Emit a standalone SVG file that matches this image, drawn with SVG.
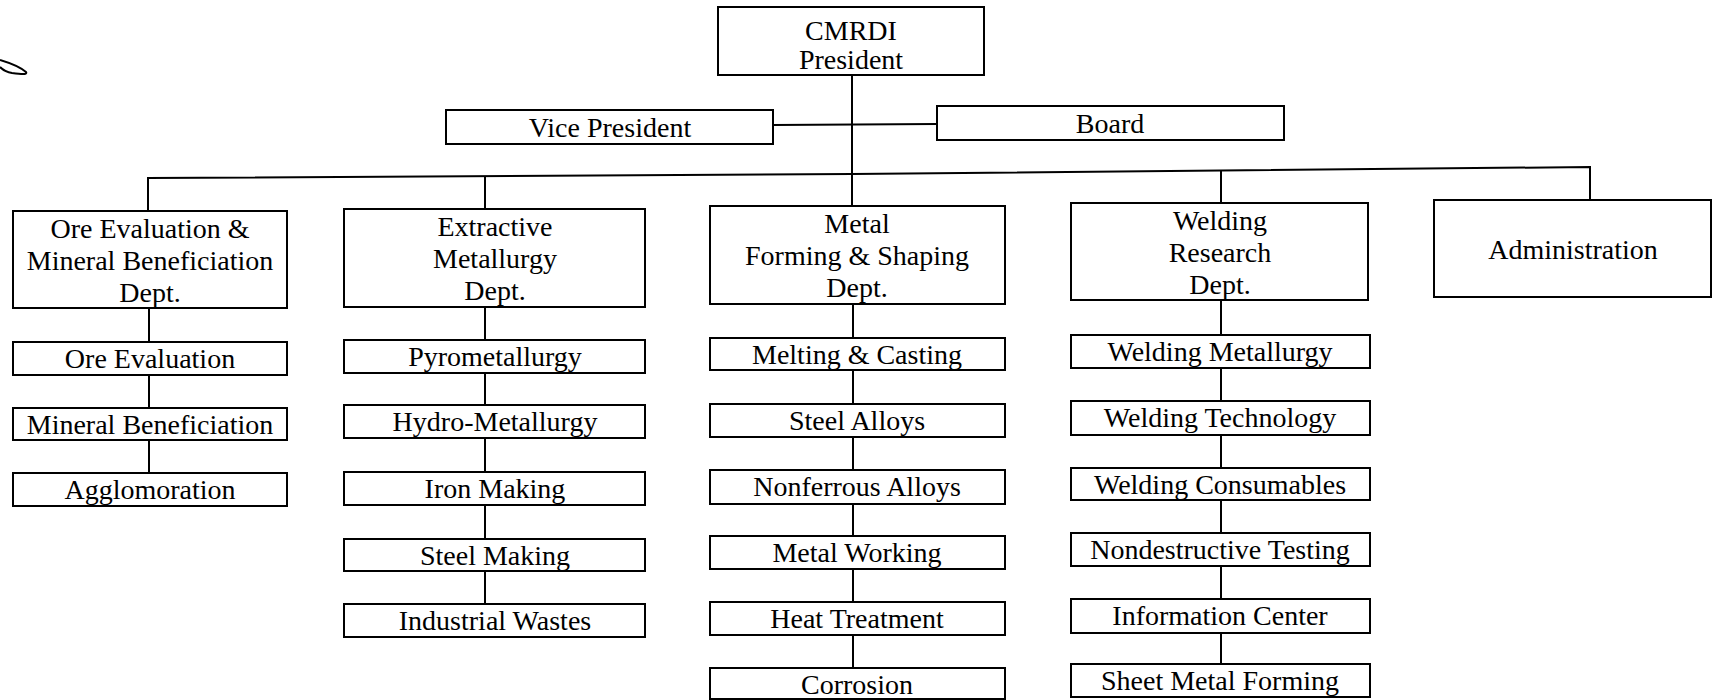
<svg xmlns="http://www.w3.org/2000/svg" width="1713" height="700" viewBox="0 0 1713 700">
<style>
.box{fill:#fff;stroke:#000;stroke-width:2}
.ln{fill:none;stroke:#000;stroke-width:2}
.t{font-family:"Liberation Serif","Times New Roman",serif;font-size:28px;text-anchor:middle;fill:#000}
</style>
<rect width="1713" height="700" fill="#fff"/>
<path class="ln" d="M0,60 C10,63 20,67 26,72 C28,75 20,74 12,73 C6,72 2,69 0,67"/>
<g id="connectors">
<line class="ln" x1="852" y1="75" x2="852" y2="206"/>
<line class="ln" x1="773" y1="125" x2="937" y2="124"/>
<polyline class="ln" points="148,211 148,178 852,174 1590,167 1590,200"/>
<line class="ln" x1="485" y1="176" x2="485" y2="209"/>
<line class="ln" x1="1221" y1="170" x2="1221" y2="203"/>
<path class="ln" d="M149,308V342M149,375V408M149,440V473"/>
<path class="ln" d="M485,307V340M485,373V405M485,438V472M485,505V539M485,571V604"/>
<path class="ln" d="M853,304V338M853,370V404M853,437V470M853,504V536M853,569V602M853,635V668"/>
<path class="ln" d="M1221,300V335M1221,368V401M1221,435V468M1221,500V533M1221,566V599M1221,633V664"/>
</g>
<g id="president"><rect class="box" x="718" y="7" width="266" height="68"/><text class="t" x="851" y="40">CMRDI</text><text class="t" x="851" y="69">President</text></g>
<g id="vice-president"><rect class="box" x="446" y="110" width="327" height="34"/><text class="t" x="610" y="137">Vice President</text></g>
<g id="board"><rect class="box" x="937" y="106" width="347" height="34"/><text class="t" x="1110" y="133">Board</text></g>
<g id="dept-ore"><rect class="box" x="13" y="211" width="274" height="97"/><text class="t" x="150" y="238">Ore Evaluation &amp;</text><text class="t" x="150" y="270">Mineral Beneficiation</text><text class="t" x="150" y="302">Dept.</text></g>
<g id="dept-extractive"><rect class="box" x="344" y="209" width="301" height="98"/><text class="t" x="495" y="236">Extractive</text><text class="t" x="495" y="268">Metallurgy</text><text class="t" x="495" y="300">Dept.</text></g>
<g id="dept-metal"><rect class="box" x="710" y="206" width="295" height="98"/><text class="t" x="857" y="233">Metal</text><text class="t" x="857" y="265">Forming &amp; Shaping</text><text class="t" x="857" y="297">Dept.</text></g>
<g id="dept-welding"><rect class="box" x="1071" y="203" width="297" height="97"/><text class="t" x="1220" y="230">Welding</text><text class="t" x="1220" y="262">Research</text><text class="t" x="1220" y="294">Dept.</text></g>
<g id="administration"><rect class="box" x="1434" y="200" width="277" height="97"/><text class="t" x="1573" y="259">Administration</text></g>
<g id="ore-evaluation"><rect class="box" x="13" y="342" width="274" height="33"/><text class="t" x="150" y="368">Ore Evaluation</text></g>
<g id="mineral-beneficiation"><rect class="box" x="13" y="408" width="274" height="32"/><text class="t" x="150" y="434">Mineral Beneficiation</text></g>
<g id="agglomoration"><rect class="box" x="13" y="473" width="274" height="33"/><text class="t" x="150" y="499">Agglomoration</text></g>
<g id="pyrometallurgy"><rect class="box" x="344" y="340" width="301" height="33"/><text class="t" x="495" y="366">Pyrometallurgy</text></g>
<g id="hydro-metallurgy"><rect class="box" x="344" y="405" width="301" height="33"/><text class="t" x="495" y="431">Hydro-Metallurgy</text></g>
<g id="iron-making"><rect class="box" x="344" y="472" width="301" height="33"/><text class="t" x="495" y="498">Iron Making</text></g>
<g id="steel-making"><rect class="box" x="344" y="539" width="301" height="32"/><text class="t" x="495" y="565">Steel Making</text></g>
<g id="industrial-wastes"><rect class="box" x="344" y="604" width="301" height="33"/><text class="t" x="495" y="630">Industrial Wastes</text></g>
<g id="melting-casting"><rect class="box" x="710" y="338" width="295" height="32"/><text class="t" x="857" y="364">Melting &amp; Casting</text></g>
<g id="steel-alloys"><rect class="box" x="710" y="404" width="295" height="33"/><text class="t" x="857" y="430">Steel Alloys</text></g>
<g id="nonferrous-alloys"><rect class="box" x="710" y="470" width="295" height="34"/><text class="t" x="857" y="496">Nonferrous Alloys</text></g>
<g id="metal-working"><rect class="box" x="710" y="536" width="295" height="33"/><text class="t" x="857" y="562">Metal Working</text></g>
<g id="heat-treatment"><rect class="box" x="710" y="602" width="295" height="33"/><text class="t" x="857" y="628">Heat Treatment</text></g>
<g id="corrosion"><rect class="box" x="710" y="668" width="295" height="31"/><text class="t" x="857" y="694">Corrosion</text></g>
<g id="welding-metallurgy"><rect class="box" x="1071" y="335" width="299" height="33"/><text class="t" x="1220" y="361">Welding Metallurgy</text></g>
<g id="welding-technology"><rect class="box" x="1071" y="401" width="299" height="34"/><text class="t" x="1220" y="427">Welding Technology</text></g>
<g id="welding-consumables"><rect class="box" x="1071" y="468" width="299" height="32"/><text class="t" x="1220" y="494">Welding Consumables</text></g>
<g id="nondestructive-testing"><rect class="box" x="1071" y="533" width="299" height="33"/><text class="t" x="1220" y="559">Nondestructive Testing</text></g>
<g id="information-center"><rect class="box" x="1071" y="599" width="299" height="34"/><text class="t" x="1220" y="625">Information Center</text></g>
<g id="sheet-metal-forming"><rect class="box" x="1071" y="664" width="299" height="33"/><text class="t" x="1220" y="690">Sheet Metal Forming</text></g>
</svg>
